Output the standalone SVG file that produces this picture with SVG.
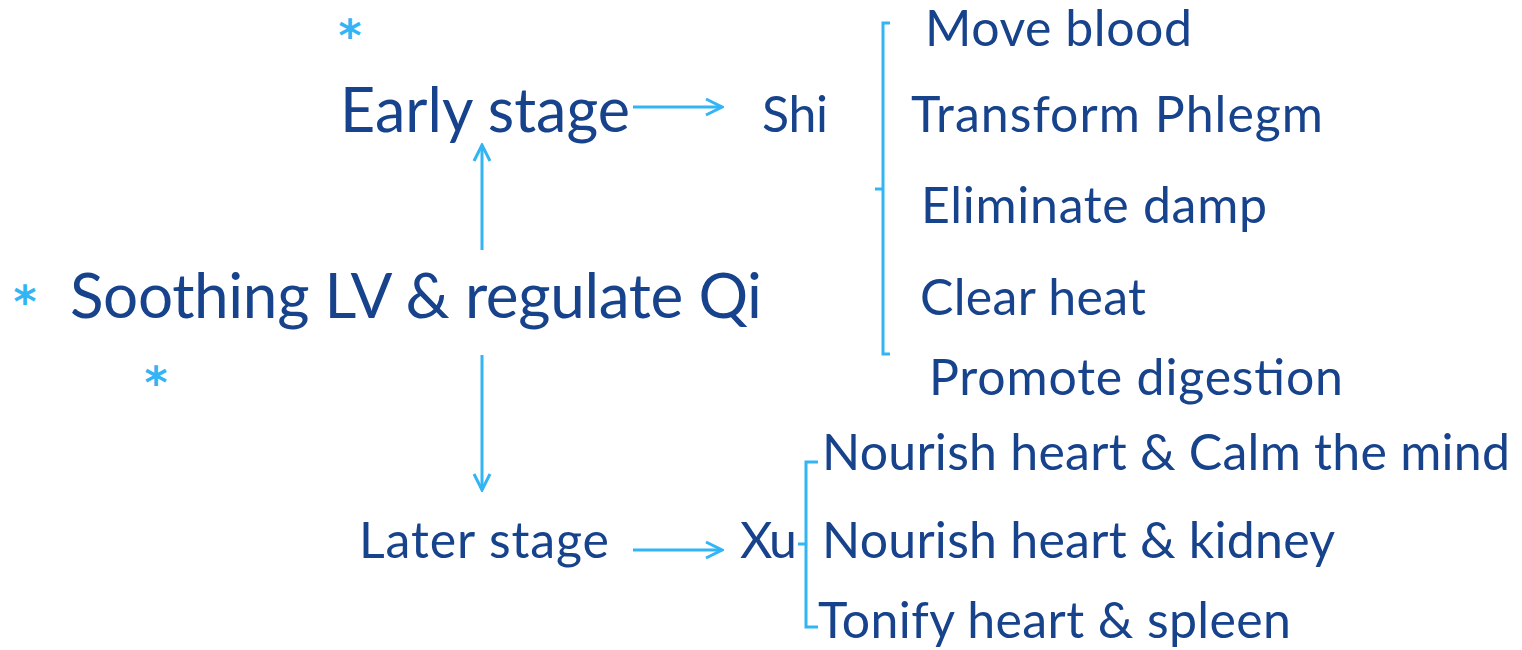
<svg xmlns="http://www.w3.org/2000/svg" width="1522" height="650" viewBox="0 0 1522 650">
<style>
text{font-family:Lato,"Open Sans",sans-serif;fill:#17428c}
.ast{fill:#33b5f5;font-family:"DejaVu Sans",sans-serif;font-weight:bold}
.ln{stroke:#33b5f5;stroke-width:3;fill:none}
</style>
<defs>
<marker id="ah" viewBox="0 0 20 20" refX="18" refY="10" markerWidth="20" markerHeight="20" markerUnits="userSpaceOnUse" orient="auto">
<path d="M2,2 L18,10 L2,18" fill="none" stroke="#33b5f5" stroke-width="3"/>
</marker>
</defs>
<rect width="1522" height="650" fill="#fff"/>
<g id="asterisks">
<text class="ast" x="350" y="51" font-size="44" text-anchor="middle">*</text>
<text class="ast" x="25" y="317" font-size="44" text-anchor="middle">*</text>
<text class="ast" x="156" y="398" font-size="44" text-anchor="middle">*</text>
</g>
<g id="root"><text x="70" y="318" font-size="62" textLength="692">Soothing LV &amp; regulate Qi</text></g>
<g id="early"><text x="340" y="132" font-size="61" textLength="290">Early stage</text></g>
<g id="shi"><text x="762" y="132" font-size="50" textLength="66">Shi</text></g>
<g id="later"><text x="359" y="558" font-size="50" textLength="250">Later stage</text></g>
<g id="xu"><text x="740" y="558" font-size="50" textLength="57">Xu</text></g>
<g id="shi-items">
<text x="925" y="46" font-size="50" textLength="267">Move blood</text>
<text x="911" y="132" font-size="50" textLength="412">Transform Phlegm</text>
<text x="921" y="223" font-size="50" textLength="346">Eliminate damp</text>
<text x="920" y="315" font-size="50" textLength="226">Clear heat</text>
<text x="929" y="395" font-size="50" textLength="414">Promote digestion</text>
</g>
<g id="xu-items">
<text x="822" y="470" font-size="50" textLength="688">Nourish heart &amp; Calm the mind</text>
<text x="822" y="558" font-size="50" textLength="513">Nourish heart &amp; kidney</text>
<text x="818" y="638" font-size="50" textLength="473">Tonify heart &amp; spleen</text>
</g>
<g id="connectors">
<line class="ln" x1="633" y1="107" x2="722" y2="107" marker-end="url(#ah)"/>
<line class="ln" x1="482" y1="250" x2="482" y2="145" marker-end="url(#ah)"/>
<line class="ln" x1="482" y1="355" x2="482" y2="490" marker-end="url(#ah)"/>
<line class="ln" x1="633" y1="550" x2="722" y2="550" marker-end="url(#ah)"/>
<path class="ln" stroke-width="2.5" d="M890,23 H883 V354 H890 M883,189 H875"/>
<path class="ln" stroke-width="2.5" d="M818,462 H806 V627 H818 M806,544 H798"/>
</g>
</svg>
